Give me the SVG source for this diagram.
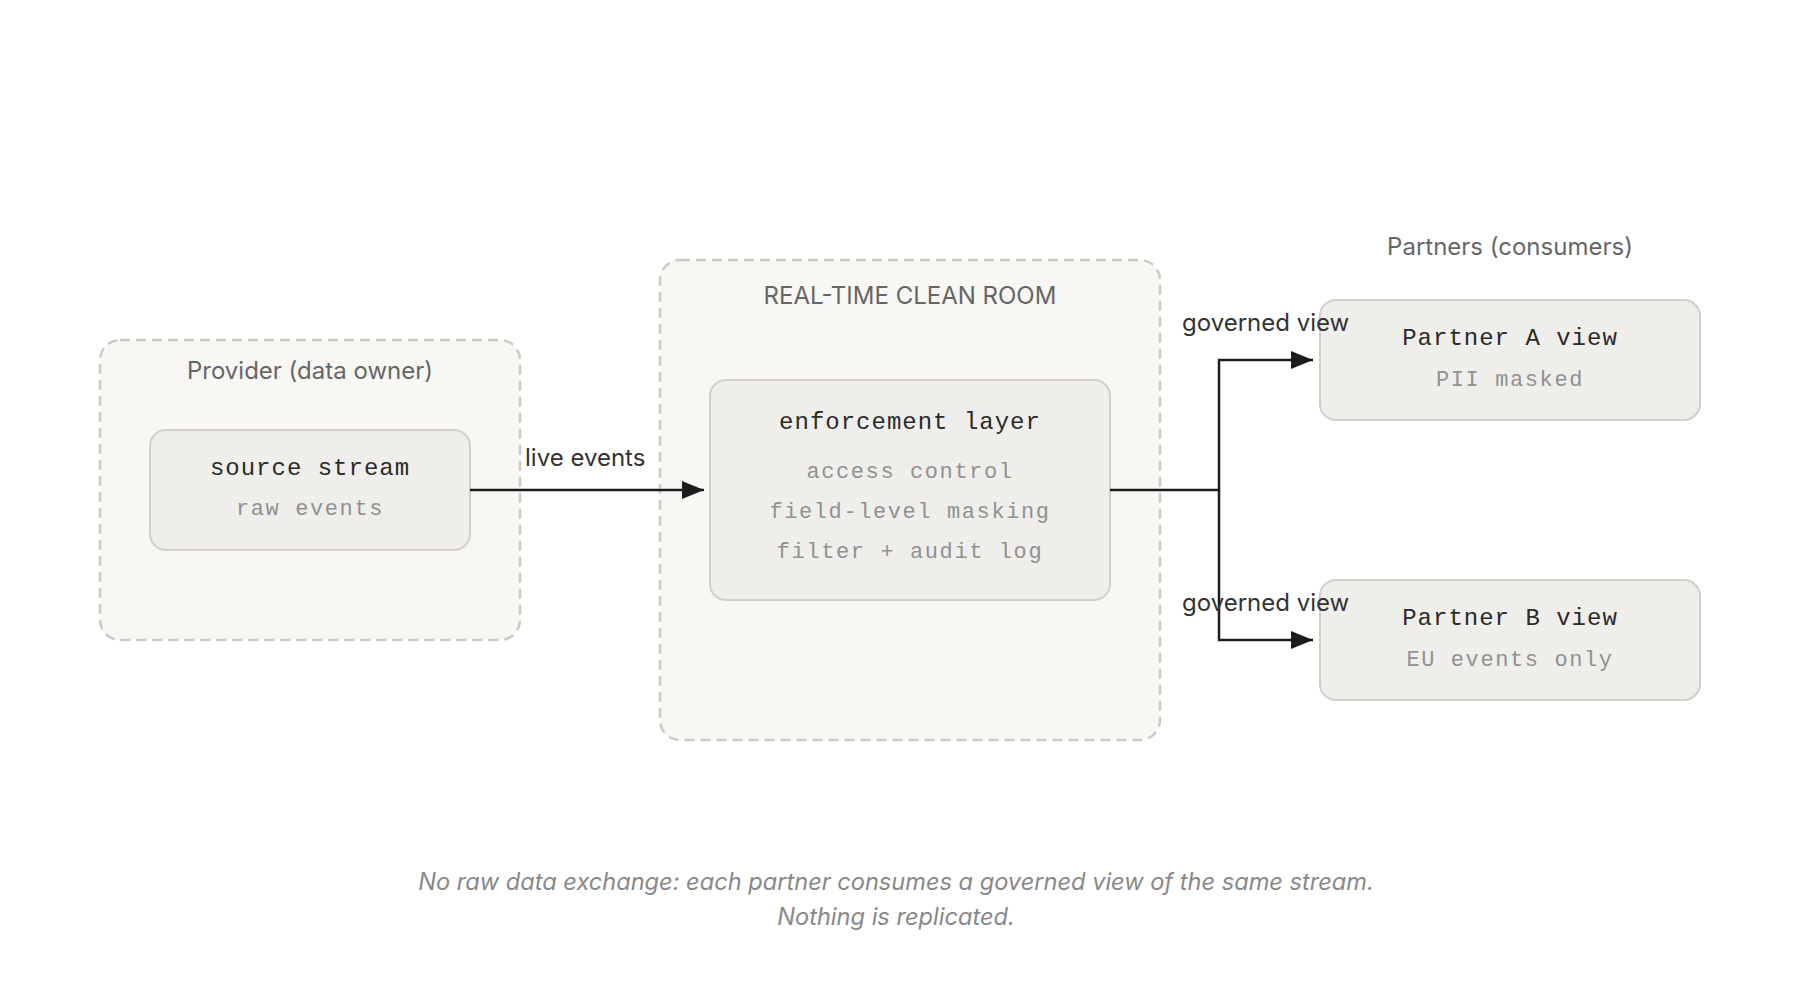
<svg xmlns="http://www.w3.org/2000/svg" width="1800" height="1000" viewBox="0 0 1800 1000">
  <defs>
    <marker id="arrow" viewBox="0 0 22 18" refX="22" refY="9" markerWidth="22" markerHeight="18" markerUnits="userSpaceOnUse" orient="auto">
      <path d="M0,0 L22,9 L0,18 Z" fill="#1c1c1c"/>
    </marker>
    <style>
      .zone { fill: #f8f7f4; stroke: #cdcac2; stroke-width: 2.5; stroke-dasharray: 10 6; }
      .zone-title { font-family: Inter, "Liberation Sans", sans-serif; font-size: 24px; fill: #666; text-anchor: middle; }
      .node { fill: #efeeea; stroke: #d2cfc8; stroke-width: 2; }
      .name { font-family: "Liberation Mono", "Courier New", monospace; font-size: 24px; fill: #2a2a2a; text-anchor: middle; letter-spacing: 1px; }
      .detail { font-family: "Liberation Mono", "Courier New", monospace; font-size: 22px; fill: #919191; text-anchor: middle; letter-spacing: 1.6px; }
      .edge { fill: none; stroke: #1c1c1c; stroke-width: 2.5; }
      .edge-label { font-family: Inter, "Liberation Sans", sans-serif; font-size: 24px; fill: #333; }
      .note { font-family: Inter, "Liberation Sans", sans-serif; font-size: 23.6px; font-style: italic; fill: #888; text-anchor: middle; }
    </style>
  </defs>

  <rect width="1800" height="1000" fill="#ffffff"/>

  <!-- boundaries -->
  <g id="provider-zone">
    <rect class="zone" x="100" y="340" width="420" height="300" rx="20"/>
    <text class="zone-title" x="310" y="379">Provider (data owner)</text>
  </g>
  <g id="clean-room-zone">
    <rect class="zone" x="660" y="260" width="500" height="480" rx="20"/>
    <text class="zone-title" x="910" y="304">REAL-TIME CLEAN ROOM</text>
  </g>
  <g id="partners-zone">
    <text class="zone-title" x="1510" y="255">Partners (consumers)</text>
  </g>

  <!-- nodes -->
  <g id="source-stream">
    <rect class="node" x="150" y="430" width="320" height="120" rx="16"/>
    <text class="name" x="310" y="475">source stream</text>
    <text class="detail" x="310" y="515">raw events</text>
  </g>
  <g id="enforcement-layer">
    <rect class="node" x="710" y="380" width="400" height="220" rx="16"/>
    <text class="name" x="910" y="429">enforcement layer</text>
    <text class="detail" x="910" y="478">access control</text>
    <text class="detail" x="910" y="518">field-level masking</text>
    <text class="detail" x="910" y="558">filter + audit log</text>
  </g>
  <g id="partner-a">
    <rect class="node" x="1320" y="300" width="380" height="120" rx="16"/>
    <text class="name" x="1510" y="345">Partner A view</text>
    <text class="detail" x="1510" y="386">PII masked</text>
  </g>
  <g id="partner-b">
    <rect class="node" x="1320" y="580" width="380" height="120" rx="16"/>
    <text class="name" x="1510" y="625">Partner B view</text>
    <text class="detail" x="1510" y="666">EU events only</text>
  </g>

  <!-- connectors -->
  <g id="connectors">
    <path class="edge" d="M470,490 L704,490" marker-end="url(#arrow)"/>
    <path class="edge" d="M1110,490 L1219,490 L1219,360 L1313,360" marker-end="url(#arrow)"/>
    <path class="edge" d="M1219,490 L1219,640 L1313,640" marker-end="url(#arrow)"/>
    <text class="edge-label" x="525" y="466">live events</text>
    <text class="edge-label" x="1182" y="331">governed view</text>
    <text class="edge-label" x="1182" y="611">governed view</text>
  </g>

  <!-- footnote -->
  <g id="footnote">
    <text class="note" x="896" y="890">No raw data exchange: each partner consumes a governed view of the same stream.</text>
    <text class="note" x="896" y="925">Nothing is replicated.</text>
  </g>
</svg>
